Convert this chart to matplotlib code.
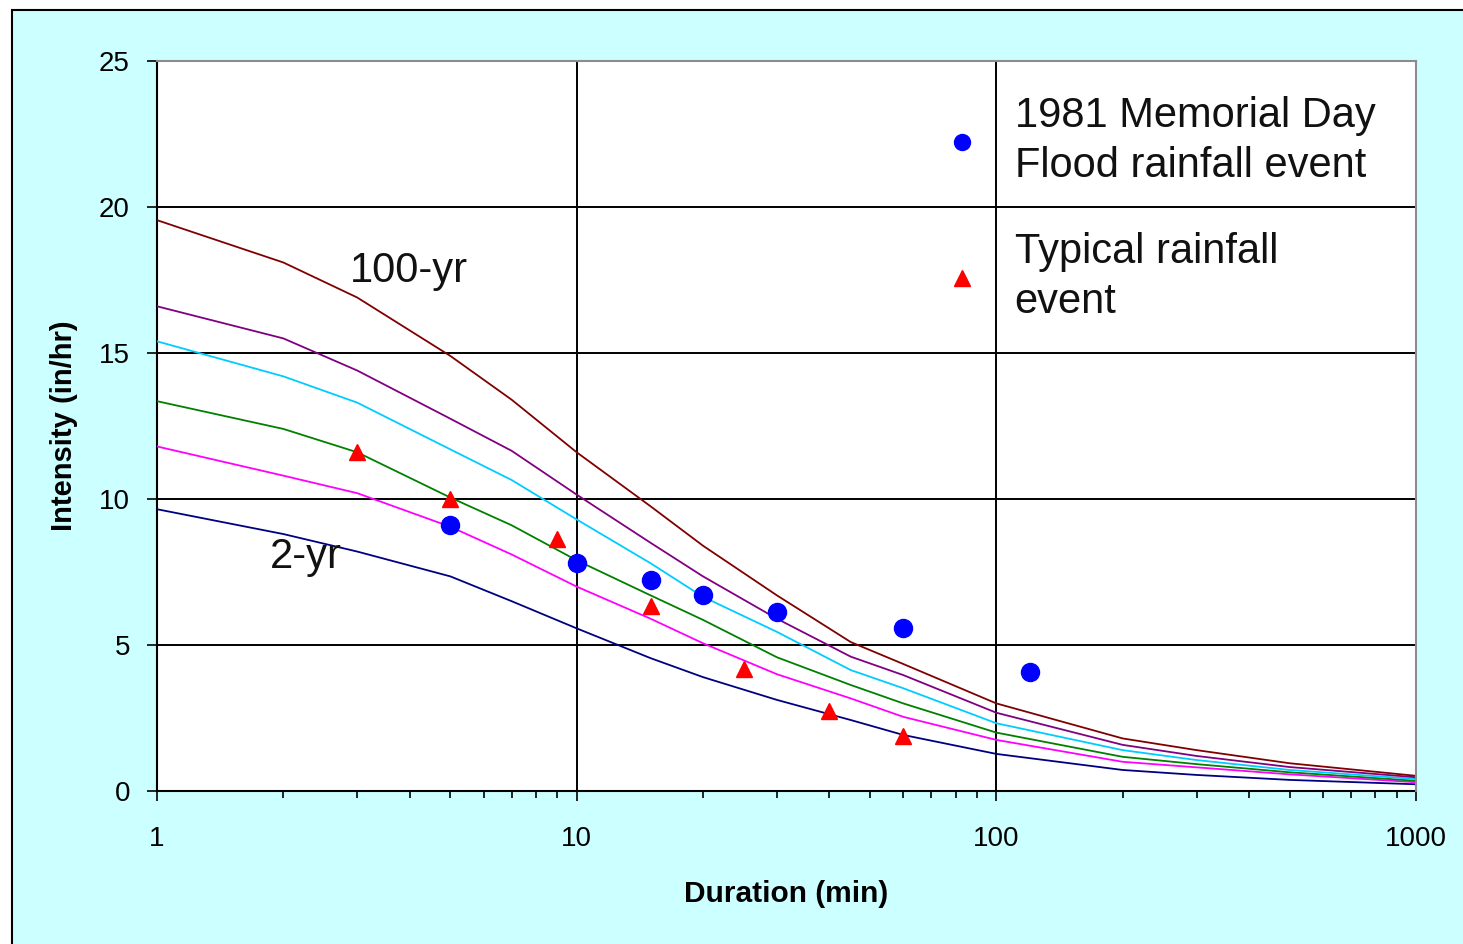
import numpy as np
import matplotlib.pyplot as plt
from matplotlib.patches import Rectangle
from matplotlib.ticker import LogLocator, NullFormatter

plt.rcParams['font.family'] = ['Liberation Sans', 'DejaVu Sans']

# durations (min) the IDF curves were read at
duration = [1, 2, 3, 5, 7, 10, 15, 20, 30, 45, 60, 100, 200, 300, 500, 1000]

# intensity (in/hr) per return period
yr2 = [9.65, 8.8, 8.2, 7.35, 6.5, 5.57, 4.55, 3.9, 3.12, 2.43, 1.92, 1.27, 0.72, 0.55, 0.38, 0.23]
yr5 = [11.8, 10.8, 10.2, 9.05, 8.1, 7.0, 5.9, 5.06, 4.0, 3.17, 2.54, 1.75, 1.0, 0.81, 0.57, 0.30]
yr10 = [13.35, 12.4, 11.6, 10.05, 9.1, 7.9, 6.7, 5.86, 4.58, 3.63, 3.0, 2.0, 1.17, 0.92, 0.64, 0.35]
yr25 = [15.4, 14.2, 13.3, 11.7, 10.65, 9.3, 7.8, 6.65, 5.45, 4.14, 3.52, 2.32, 1.4, 1.06, 0.72, 0.41]
yr50 = [16.6, 15.5, 14.4, 12.75, 11.65, 10.15, 8.5, 7.35, 5.9, 4.6, 3.97, 2.68, 1.58, 1.2, 0.82, 0.47]
yr100 = [19.55, 18.1, 16.9, 14.9, 13.4, 11.6, 9.75, 8.4, 6.7, 5.1, 4.35, 3.0, 1.8, 1.4, 0.95, 0.52]

# observed events
flood_dur = [5, 10, 15, 20, 30, 60, 120]
flood_int = [9.1, 7.8, 7.23, 6.72, 6.14, 5.58, 4.08]
typ_dur = [3, 5, 9, 15, 25, 40, 60]
typ_int = [11.6, 10.0, 8.63, 6.35, 4.18, 2.75, 1.88]

curves = [(yr2, '#000080'), (yr5, '#FF00FF'), (yr10, '#008000'),
          (yr25, '#00CCFF'), (yr50, '#800080'), (yr100, '#800000')]

W, H = 1463, 944
fig = plt.figure(figsize=(W / 100, H / 100), dpi=100)
fig.patches.append(Rectangle((12 / W, -0.1), 1.2, 0.1 + (H - 10) / H,
                             transform=fig.transFigure, facecolor='#CCFFFF',
                             edgecolor='black', lw=1.5, zorder=-10))

ax = fig.add_axes([157 / W, (H - 791) / H, 1259 / W, 730 / H])
ax.set_facecolor('white')

for vals, c in curves:
    ax.plot(duration, vals, color=c, lw=1.3, zorder=3)

dots, = ax.plot(flood_dur, flood_int, 'o', color='#0000FF', ms=13, mec='#0000FF', zorder=4, clip_on=False)
tris, = ax.plot(typ_dur, typ_int, '^', color='#FF0000', ms=11, mec='#FF0000', zorder=4)

ax.set_xscale('log')
ax.set_xlim(1, 1000)
ax.set_ylim(0, 25)
ax.set_xticks([1, 10, 100, 1000], labels=['1', '10', '100', '1000'])
ax.xaxis.set_minor_locator(LogLocator(base=10, subs=np.arange(2, 10)))
ax.xaxis.set_minor_formatter(NullFormatter())
ax.set_yticks(range(0, 26, 5))

ax.tick_params(axis='both', which='major', direction='out', length=7.5, width=1.2,
               labelsize=20, color='black')
ax.tick_params(axis='x', which='major', pad=18)
ax.tick_params(axis='y', which='major', pad=12)
ax.tick_params(axis='x', which='minor', direction='out', length=5, width=1.2)

ax.set_axisbelow(True)
ax.grid(True, which='major', color='black', lw=1.4)

for s in ['left', 'bottom']:
    ax.spines[s].set_color('black')
    ax.spines[s].set_linewidth(1.5)
for s in ['top', 'right']:
    ax.spines[s].set_color('#8c8c8c')
    ax.spines[s].set_linewidth(1.5)
    ax.spines[s].set_zorder(5)

ax.set_xlabel('Duration (min)', fontsize=21.5, fontweight='bold')
ax.set_ylabel('Intensity (in/hr)', fontsize=21, fontweight='bold')
ax.xaxis.set_label_coords(0.5, -0.122)
ax.yaxis.set_label_coords(-0.063, 0.5)

ax.text(2.88, 17.8, '100-yr', fontsize=30, va='center', ha='left', color='#111111')
ax.text(1.86, 8.0, '2-yr', fontsize=30, va='center', ha='left', color='#111111')

leg = ax.legend([dots, tris],
                ['1981 Memorial Day\nFlood rainfall event', 'Typical rainfall\nevent'],
                loc='upper left', bbox_to_anchor=((941 - 157) / 1259, (791 - 96) / 730),
                frameon=False, fontsize=30, handlelength=1.0, handletextpad=0.77,
                labelspacing=1.1, borderpad=0, borderaxespad=0,
                numpoints=1)
leg.legend_handles[0].set_markersize(11.5)
leg.legend_handles[1].set_markersize(12)
for t in leg.get_texts():
    t.set_color('#111111')
    t.set_linespacing(1.32)

fig.savefig('out.png', dpi=100)
